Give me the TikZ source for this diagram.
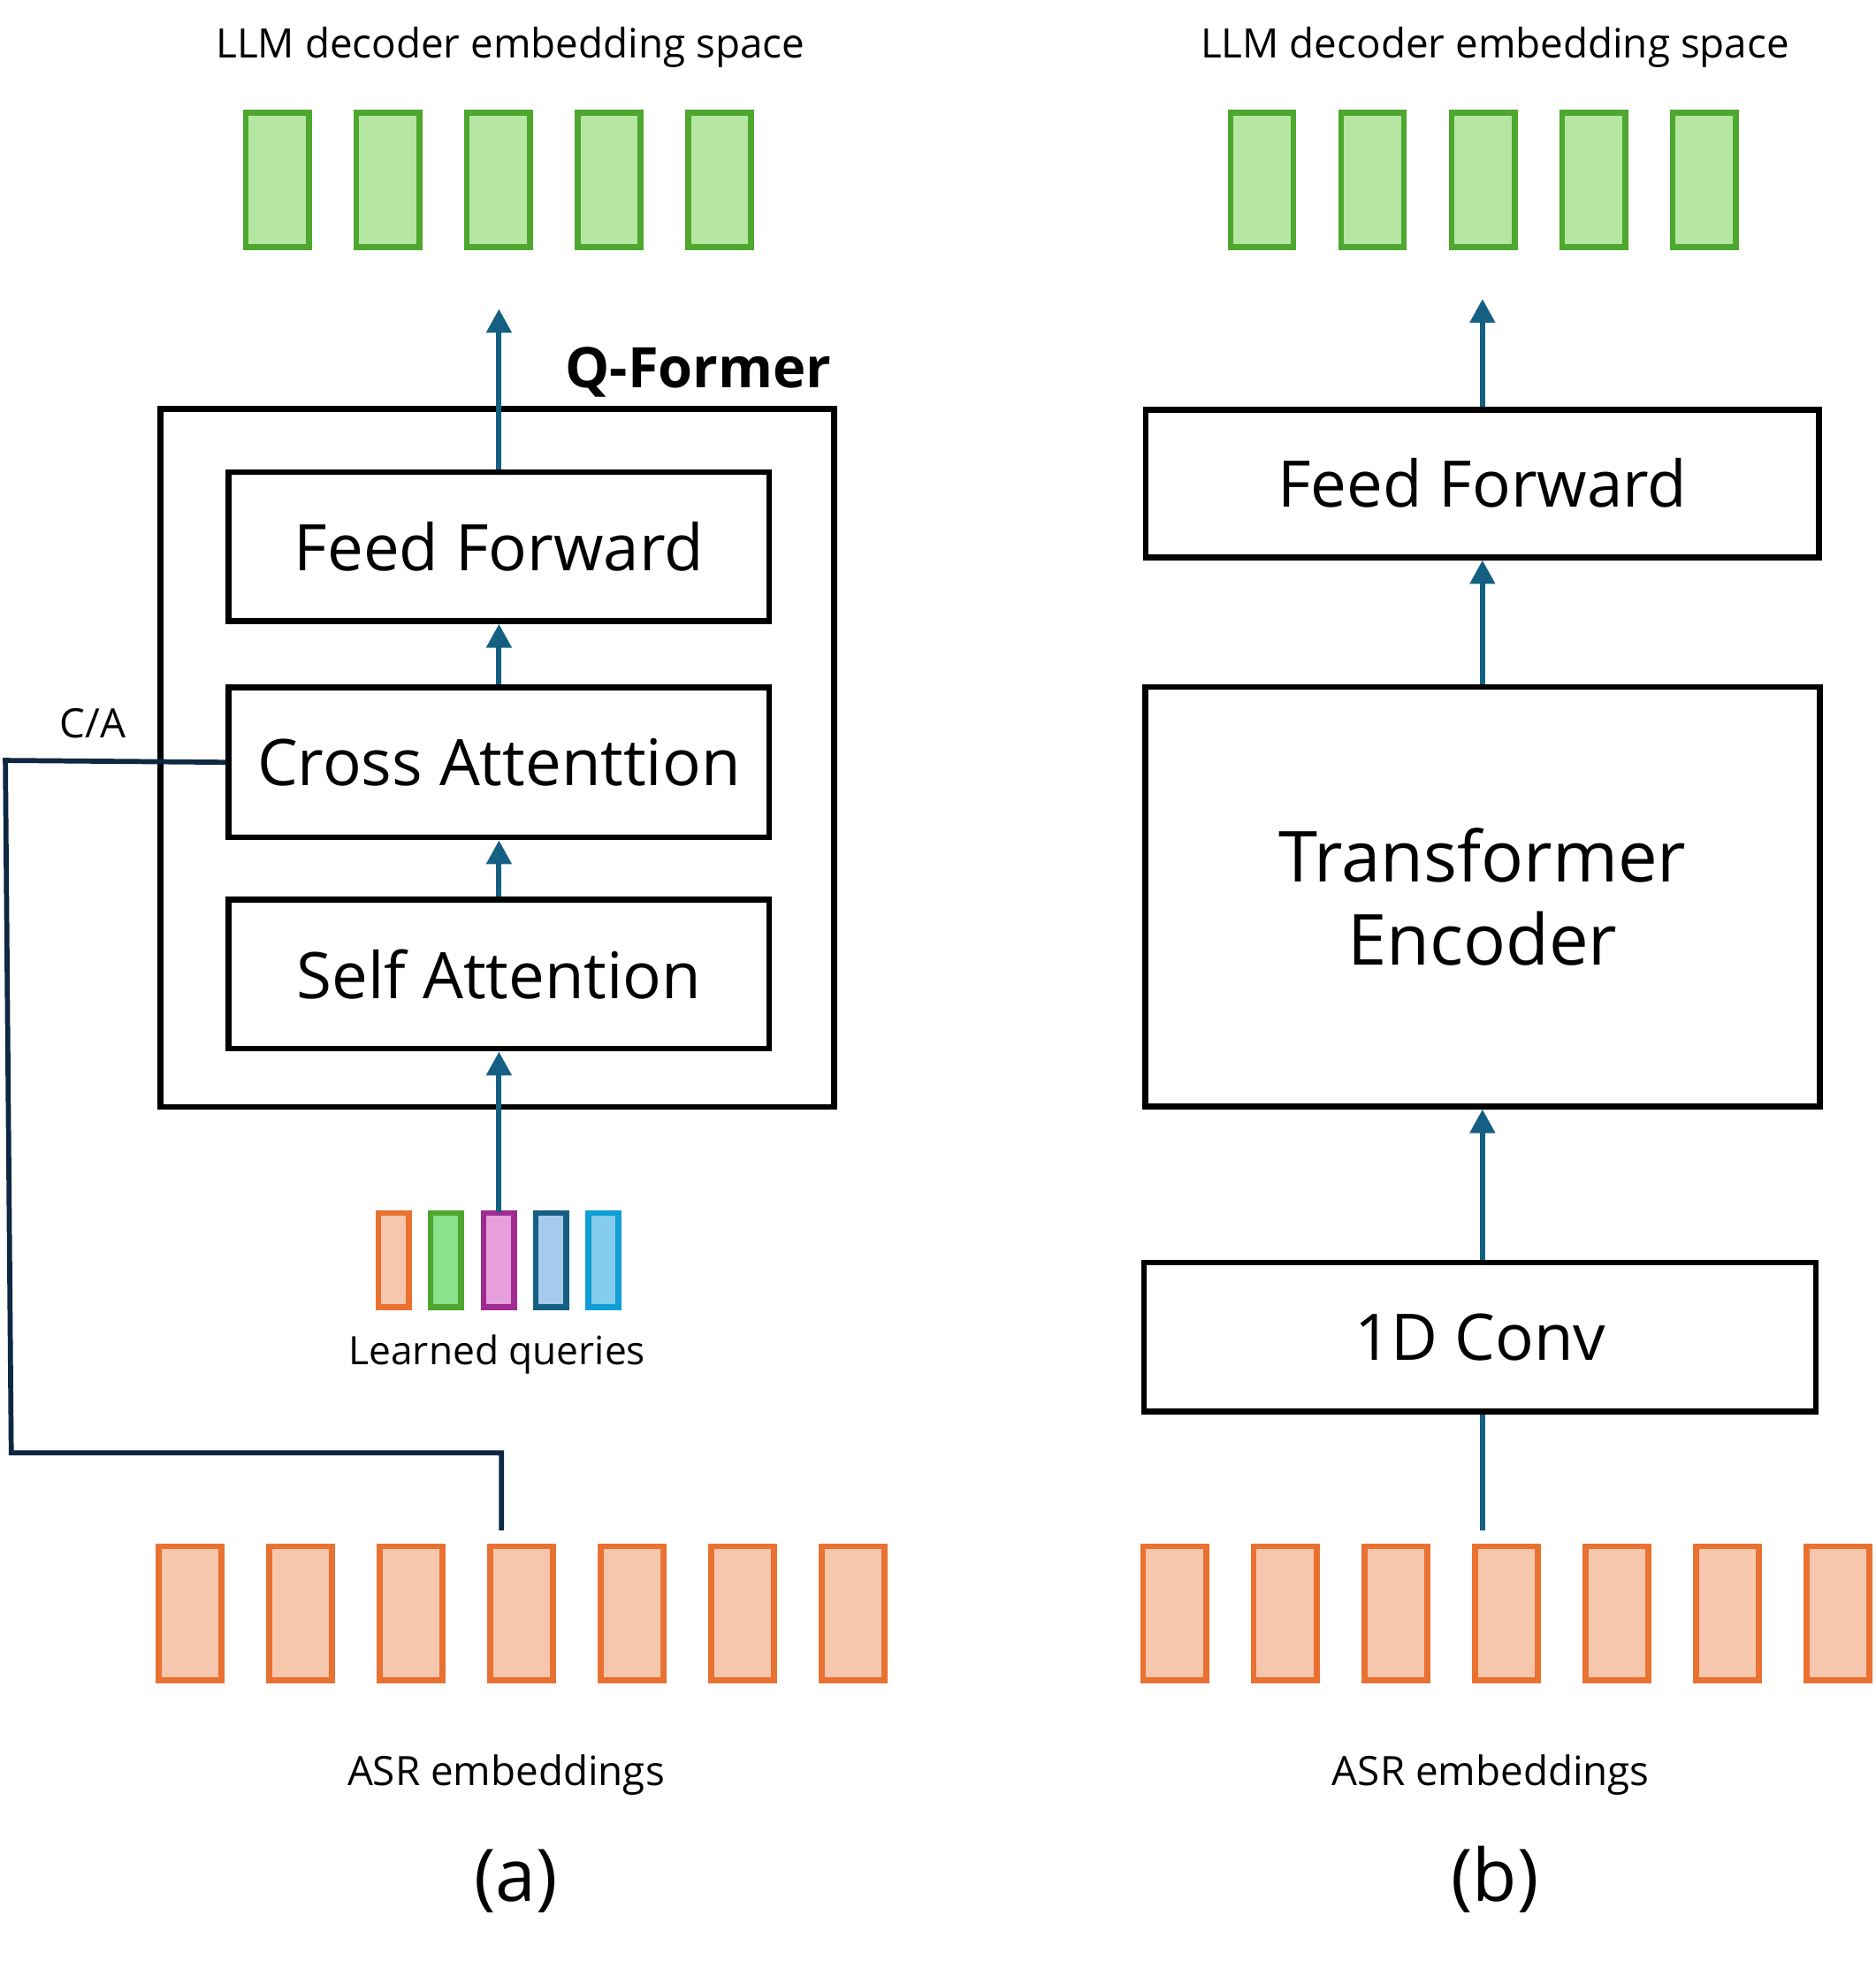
\documentclass[tikz,border=0pt]{standalone}
\usepackage{fontspec}
\setmainfont{Open Sans}
\usepackage{tikz}
\usetikzlibrary{arrows.meta}
\usepackage{xcolor}

\definecolor{flowblue}{HTML}{156082}
\definecolor{caline}{HTML}{0E2841}
\definecolor{asrdraw}{HTML}{E97132}
\definecolor{asrfill}{HTML}{F6C6AD}
\definecolor{llmdraw}{HTML}{4EA72E}
\definecolor{llmfill}{HTML}{B5E6A2}
\definecolor{qgreen}{HTML}{8AE28C}
\definecolor{qpurpledraw}{HTML}{A02B93}
\definecolor{qpurple}{HTML}{E59FDC}
\definecolor{qblue}{HTML}{A6CAEC}
\definecolor{qcyandraw}{HTML}{0F9ED5}
\definecolor{qcyan}{HTML}{83CCEB}

\tikzset{
blk/.style={draw=black, line width=1.33pt, rectangle, inner sep=0pt, align=center, font=\fontsize{14.6}{18}\selectfont},
flow/.style={flowblue, line width=1.2pt, -{Triangle[width=0.195cm,length=0.19cm]}},
asr/.style={draw=asrdraw, fill=asrfill, line width=1.33pt},
llm/.style={draw=llmdraw, fill=llmfill, line width=1.33pt},
lbl/.style={font=\fontsize{9.2}{11}\selectfont, inner sep=0pt}
}

\begin{document}
\begin{tikzpicture}[x=0.01cm, y=-0.01cm]
\useasboundingbox (0,0) rectangle (1500,1568);

\begin{scope}{
\node[lbl, anchor=base] (titlea) at (408,46) {LLM decoder embedding space};

%llm embeddings
\draw[llm] (196.6,90) rectangle (246.9,197.6);
\draw[llm] (285.0,90) rectangle (335.3,197.6);
\draw[llm] (373.4,90) rectangle (423.7,197.6);
\draw[llm] (461.8,90) rectangle (512.1,197.6);
\draw[llm] (550.2,90) rectangle (600.5,197.6);

\draw[line width=1.33pt] (128.5,327) rectangle (667,885);
\node[anchor=base, inner sep=0pt, font=\fontsize{12.7}{15}\selectfont\bfseries] (qformer) at (558.5,310) {Q-Former};

\node[blk, minimum width=4.32cm, minimum height=1.19cm] (ffa) at (399,437) {Feed Forward};
\node[blk, minimum width=4.32cm, minimum height=1.20cm] (caa) at (399,609.5) {Cross Attenttion};
\node[blk, minimum width=4.32cm, minimum height=1.19cm] (saa) at (399,779) {Self Attention};

\coordinate (outa) at (399,247);
\draw[flow] (ffa.north) -- (outa);
\draw[flow] (caa.north) -- (ffa.south);
\draw[flow] (saa.north) -- (caa.south);

%learned queries
\draw[draw=asrdraw, fill=asrfill, line width=1.33pt] (302.7,970) rectangle (327.0,1045);
\draw[draw=llmdraw, fill=qgreen, line width=1.33pt] (344.3,970) rectangle (368.7,1045);
\draw[draw=qpurpledraw, fill=qpurple, line width=1.33pt] (386.8,970) rectangle (411.2,1045);
\draw[draw=flowblue, fill=qblue, line width=1.33pt] (428.3,970) rectangle (452.7,1045);
\draw[draw=qcyandraw, fill=qcyan, line width=1.33pt] (470.3,970) rectangle (494.7,1045);

\coordinate (qtop) at (399,969);
\draw[flow] (qtop) -- (saa.south);

\node[lbl, anchor=base, font=\fontsize{8.9}{11}\selectfont] (queries) at (397.5,1091) {Learned queries};

\node[lbl, anchor=base] (ca) at (74,590) {C/A};
\coordinate (tapa) at (401,1223.6);
\draw[caline, line width=1.15pt] (caa.west) -- (4.3,608) -- (9,1161.6) -- (401,1161.6) -- (tapa);

%asr embeddings
\draw[asr] (126.7,1236.4) rectangle (177.0,1343.6);
\draw[asr] (215.1,1236.4) rectangle (265.4,1343.6);
\draw[asr] (303.5,1236.4) rectangle (353.8,1343.6);
\draw[asr] (391.9,1236.4) rectangle (442.2,1343.6);
\draw[asr] (480.3,1236.4) rectangle (530.6,1343.6);
\draw[asr] (568.7,1236.4) rectangle (619.0,1343.6);
\draw[asr] (657.1,1236.4) rectangle (707.4,1343.6);

\node[lbl, anchor=base] (asra) at (404.7,1428) {ASR embeddings};
\node[anchor=base, inner sep=0pt, font=\fontsize{16.5}{20}\selectfont] (capa) at (412.6,1520.6) {(a)};
} \end{scope}


\begin{scope}[xshift=7.87cm]{
\node[lbl, anchor=base] (titleb) at (408,46) {LLM decoder embedding space};

%llm embeddings
\draw[llm] (196.6,90) rectangle (246.9,197.6);
\draw[llm] (285.0,90) rectangle (335.3,197.6);
\draw[llm] (373.4,90) rectangle (423.7,197.6);
\draw[llm] (461.8,90) rectangle (512.1,197.6);
\draw[llm] (550.2,90) rectangle (600.5,197.6);

\node[blk, minimum width=5.38cm, minimum height=1.18cm] (ffb) at (398,386.5) {Feed Forward};
\node[blk, minimum width=5.39cm, minimum height=3.35cm, font=\fontsize{16}{19}\selectfont] (teb) at (398,717) {Transformer\\Encoder};
\node[blk, minimum width=5.37cm, minimum height=1.19cm] (convb) at (396,1069) {1D Conv};

\coordinate (outb) at (398,239);
\draw[flow] (ffb.north) -- (outb);
\draw[flow] (teb.north) -- (ffb.south);
\draw[flow] (convb.north -| teb.south) -- (teb.south);

\coordinate (tapb) at (398,1223.6);
\draw[flowblue, line width=1.2pt] (tapb) -- (convb.south -| tapb);

%asr embeddings
\draw[asr] (126.7,1236.4) rectangle (177.0,1343.6);
\draw[asr] (215.1,1236.4) rectangle (265.4,1343.6);
\draw[asr] (303.5,1236.4) rectangle (353.8,1343.6);
\draw[asr] (391.9,1236.4) rectangle (442.2,1343.6);
\draw[asr] (480.3,1236.4) rectangle (530.6,1343.6);
\draw[asr] (568.7,1236.4) rectangle (619.0,1343.6);
\draw[asr] (657.1,1236.4) rectangle (707.4,1343.6);

\node[lbl, anchor=base] (asrb) at (404.7,1428) {ASR embeddings};
\node[anchor=base, inner sep=0pt, font=\fontsize{16.5}{20}\selectfont] (capb) at (408,1520.6) {(b)};
} \end{scope}

\end{tikzpicture}
\end{document}
